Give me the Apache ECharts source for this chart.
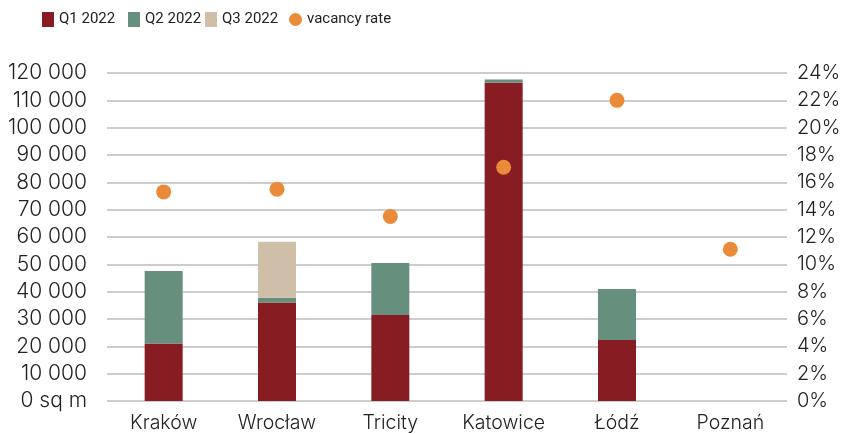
<!DOCTYPE html>
<html>
<head>
<meta charset="utf-8">
<script src="https://cdn.jsdelivr.net/npm/echarts@6/dist/echarts.min.js"></script>
<style>
  html, body { margin: 0; padding: 0; background: #fff; }
  #chart { width: 844px; height: 434px; }
</style>
</head>
<body>
<div id="chart"></div>
<script>
// office supply by city, sq m
var cities = ['Kraków', 'Wrocław', 'Tricity', 'Katowice', 'Łódź', 'Poznań']
var q1 = [21000, 36000, 31500, 116400, 22300, 0]
var q2 = [26600, 1800, 19000, 1200, 18700, 0]
var q3 = [0, 20500, 0, 0, 0, 0]
// vacancy rate, %
var vacancy = [15.3, 15.5, 13.5, 17.1, 22.0, 11.1]

var textColor = '#222'
var fontFamily = 'Inter, Roboto, sans-serif'

function spaced(v) {
  if (v === 0) return '0 sq m'
  return String(v).replace(/\B(?=(\d{3})+(?!\d))/g, ' ')
}

// one legend per item so each sits where it does in the original
function legendItem(name, icon, left, w, h) {
  return {
    left: left,
    top: 12,
    padding: 0,
    itemWidth: w,
    itemHeight: h,
    itemGap: 0,
    textStyle: { fontSize: 15, color: textColor, fontFamily: 'Roboto, sans-serif' },
    data: [{ name: name, icon: icon }]
  }
}

var chart = echarts.init(document.getElementById('chart'))
chart.setOption({
  animation: false,
  textStyle: { fontFamily: fontFamily },
  legend: [
    legendItem('Q1 2022', 'rect', 42, 12, 15),
    legendItem('Q2 2022', 'rect', 128, 12, 15),
    legendItem('Q3 2022', 'rect', 205, 12, 15),
    legendItem('vacancy rate', 'circle', 289, 13, 13)
  ],
  grid: { left: 107, right: 57, top: 73, bottom: 33 },
  xAxis: {
    type: 'category',
    data: cities,
    axisLine: { show: false },
    axisTick: { show: false },
    axisLabel: { fontSize: 19.5, fontWeight: 300, color: textColor, margin: 12 }
  },
  yAxis: [
    {
      type: 'value',
      min: 0,
      max: 120000,
      interval: 10000,
      axisLabel: { fontSize: 21, fontWeight: 300, color: textColor, margin: 20, formatter: spaced },
      splitLine: { lineStyle: { color: '#bdbdbd', width: 1.5 } }
    },
    {
      type: 'value',
      min: 0,
      max: 24,
      interval: 2,
      axisLabel: { fontSize: 20, fontWeight: 300, color: textColor, margin: 10, formatter: '{value}%' },
      splitLine: { show: false }
    }
  ],
  series: [
    { name: 'Q1 2022', type: 'bar', stack: 'supply', data: q1, barWidth: 38, itemStyle: { color: '#871d22' } },
    { name: 'Q2 2022', type: 'bar', stack: 'supply', data: q2, barWidth: 38, itemStyle: { color: '#668f7e' } },
    { name: 'Q3 2022', type: 'bar', stack: 'supply', data: q3, barWidth: 38, itemStyle: { color: '#cfbea8' } },
    {
      name: 'vacancy rate',
      type: 'scatter',
      yAxisIndex: 1,
      data: vacancy,
      symbolSize: 15,
      itemStyle: { color: '#ea8b39', opacity: 1 },
      z: 5
    }
  ]
})
</script>
</body>
</html>
